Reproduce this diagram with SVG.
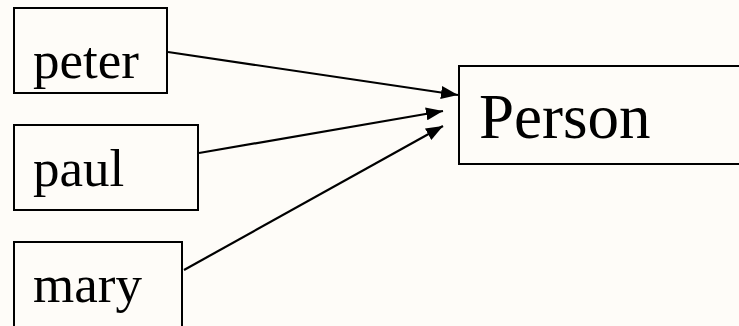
<svg xmlns="http://www.w3.org/2000/svg" width="739" height="326" viewBox="0 0 739 326">
<style>
.box{fill:none;stroke:#000;stroke-width:2}
.t{font-family:"Liberation Serif","Times New Roman",serif;fill:#000}
.c{stroke:#000;stroke-width:2.2;fill:none;marker-end:url(#ah)}
</style>
<defs>
<marker id="ah" markerWidth="17" markerHeight="13" refX="17" refY="6.5" orient="auto" markerUnits="userSpaceOnUse">
<path d="M0,0 L17,6.5 L0,13 Z" fill="#000"/>
</marker>
</defs>
<rect width="739" height="326" fill="#FEFCF8"/>
<g id="peter"><rect class="box" x="14" y="8" width="153" height="85"/><text class="t" x="33" y="78" font-size="53">peter</text></g>
<g id="paul"><rect class="box" x="14" y="125" width="184" height="85"/><text class="t" x="33" y="186" font-size="53">paul</text></g>
<g id="mary"><rect class="box" x="14" y="242" width="168" height="90"/><text class="t" x="33" y="302" font-size="53">mary</text></g>
<g id="Person"><rect class="box" x="459" y="66" width="290" height="98"/><text class="t" x="479" y="138" font-size="63">Person</text></g>
<g id="connectors">
<line class="c" x1="168" y1="52" x2="458" y2="95"/>
<line class="c" x1="199" y1="153" x2="443" y2="111"/>
<line class="c" x1="184" y1="270" x2="443" y2="126"/>
</g>
</svg>
